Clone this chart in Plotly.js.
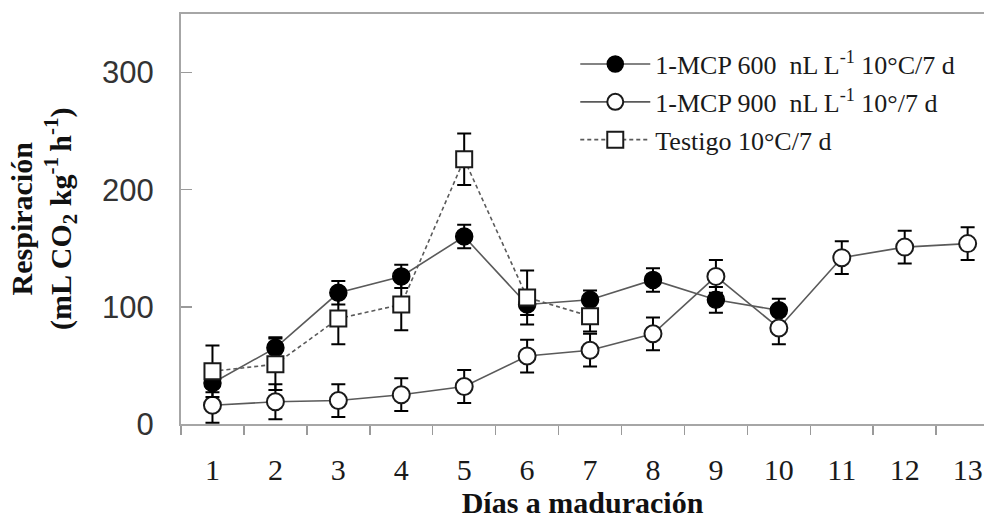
<!DOCTYPE html>
<html>
<head>
<meta charset="utf-8">
<script src="https://cdn.plot.ly/plotly-3.0.1.min.js"></script>
<style>
  html, body { margin: 0; padding: 0; background: #ffffff; }
  #chart { width: 984px; height: 519px; }
</style>
</head>
<body>
<div id="chart"></div>
<script>
// Days after cold storage (category labels on the x axis)
const days = ['1', '2', '3', '4', '5', '6', '7', '8', '9', '10', '11', '12', '13'];

// 1-MCP 600 nL L-1, 10 °C / 7 d
const mcp600Days = days.slice(0, 10);
const mcp600 = [35, 65, 112, 126, 160, 102, 106, 123, 106, 97];
const mcp600Err = [8, 9, 10, 10, 10, 9, 8, 10, 11, 10];

// 1-MCP 900 nL L-1, 10 ° / 7 d
const mcp900Days = days;
const mcp900 = [16, 19, 20, 25, 32, 58, 63, 77, 126, 82, 142, 151, 154];
const mcp900Err = [15, 15, 14, 14, 14, 14, 14, 14, 14, 14, 14, 14, 14];

// Control (testigo), 10 °C / 7 d
const testigoDays = days.slice(0, 7);
const testigo = [45, 51, 90, 102, 226, 108, 92];
const testigoErr = [22, 22, 22, 22, 22, 23, 13];

const yTicks = [0, 100, 200, 300];

const serif = 'Liberation Serif, Times New Roman, serif';
const sans = 'Liberation Sans, Arial, sans-serif';

function errBars(arr) {
  return { type: 'data', array: arr, visible: true, color: '#000000', thickness: 2, width: 7 };
}

const traces = [
  {
    x: mcp600Days, y: mcp600, name: '1-MCP 600  nL L<sup>-1</sup> 10°C/7 d',
    type: 'scatter', mode: 'lines+markers', legendgroup: 'a',
    line: { color: '#5a5a5a', width: 1.6 },
    marker: { symbol: 'circle', size: 17, color: '#000000', line: { color: '#000000', width: 1.5 } },
    error_y: errBars(mcp600Err)
  },
  {
    x: mcp900Days, y: mcp900, name: '1-MCP 900  nL L<sup>-1</sup> 10°/7 d',
    type: 'scatter', mode: 'lines+markers', legendgroup: 'b',
    line: { color: '#5a5a5a', width: 1.6 },
    marker: { symbol: 'circle', size: 17, color: '#ffffff', line: { color: '#1a1a1a', width: 2 } },
    error_y: errBars(mcp900Err)
  },
  {
    x: testigoDays, y: testigo, name: 'Testigo 10°C/7 d',
    type: 'scatter', mode: 'lines+markers', legendgroup: 'c',
    line: { color: '#5a5a5a', width: 1.6, dash: '4px,3px' },
    marker: { symbol: 'square', size: 16, color: '#ffffff', line: { color: '#1a1a1a', width: 2 } },
    error_y: errBars(testigoErr)
  }
];

const layout = {
  width: 984,
  height: 519,
  margin: { l: 181, r: 0, t: 14, b: 95 },
  paper_bgcolor: '#ffffff',
  plot_bgcolor: '#ffffff',
  showlegend: true,
  legend: {
    x: 0.491, y: 0.935, xanchor: 'left', yanchor: 'top',
    bgcolor: 'rgba(0,0,0,0)',
    font: { family: serif, size: 26, color: '#1a1a1a' },
    itemsizing: 'trace',
    itemwidth: 70,
    tracegroupgap: 1
  },
  xaxis: {
    type: 'category',
    categoryorder: 'array',
    categoryarray: days,
    range: [-0.5, 12.26],
    tickson: 'boundaries',
    ticks: 'outside', ticklen: 9, tickwidth: 1.5, tickcolor: '#9a9a9a',
    showline: true, linecolor: '#a6a6a6', linewidth: 2, mirror: true,
    showgrid: false, zeroline: false,
    tickfont: { family: serif, size: 30, color: '#1a1a1a' },
    ticklabelstandoff: 18,
    title: {
      text: '<b>Días a maduración</b>',
      font: { family: serif, size: 30, color: '#111111' },
      standoff: 6
    }
  },
  yaxis: {
    range: [0, 350],
    tickvals: yTicks,
    ticks: 'inside', ticklen: 11, tickwidth: 1.5, tickcolor: '#9a9a9a',
    showline: true, linecolor: '#a6a6a6', linewidth: 2, mirror: false,
    showgrid: false, zeroline: false,
    tickfont: { family: sans, size: 31, color: '#333333' },
    ticklabelstandoff: 19
  },
  annotations: [
    {
      xref: 'paper', yref: 'paper',
      x: (43 - 181) / 803, y: 0.5,
      xanchor: 'center', yanchor: 'middle',
      textangle: -90,
      showarrow: false,
      align: 'center',
      font: { family: serif, size: 30, color: '#111111' },
      text: '<b>Respiración</b><br><b>(mL CO<sub>2</sub> kg<sup>-1 </sup>h<sup>-1</sup>)</b>'
    }
  ]
};

Plotly.newPlot('chart', traces, layout, { displayModeBar: false, staticPlot: true });
</script>
</body>
</html>
